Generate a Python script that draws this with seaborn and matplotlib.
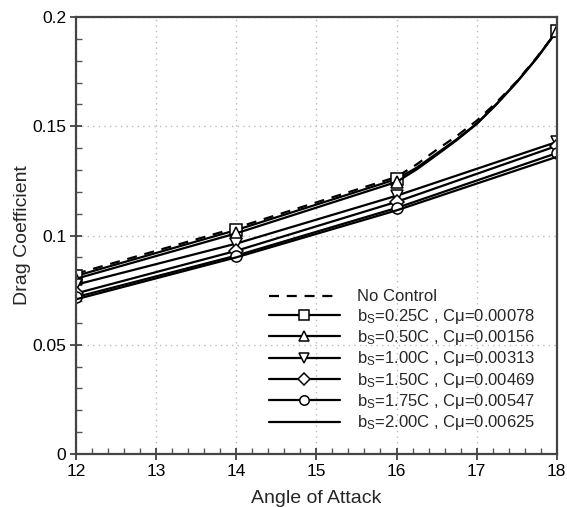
import numpy as np
import pandas as pd
import matplotlib
matplotlib.use("Agg")
import matplotlib.pyplot as plt
import seaborn as sns
from matplotlib.ticker import MultipleLocator, FixedLocator, FixedFormatter

# ---- data ----
x_fine = [12, 14, 16, 16.25, 16.5, 16.75, 17, 17.25, 17.5, 17.75, 18]
x_main = [12, 14, 16, 18]

no_control = [0.0825, 0.1035, 0.1268, 0.1325, 0.1392, 0.1455, 0.1525, 0.1610, 0.1705, 0.1815, 0.1935]
bs_025 = [0.0815, 0.1025, 0.1258, 0.1310, 0.1375, 0.1440, 0.1512, 0.1603, 0.1702, 0.1812, 0.1935]
bs_050 = [0.0802, 0.1010, 0.1245, 0.1302, 0.1368, 0.1436, 0.1510, 0.1601, 0.1701, 0.1811, 0.1935]
bs_100 = [0.0775, 0.0963, 0.1182, 0.1428]
bs_150 = [0.0735, 0.0930, 0.1154, 0.1410]
bs_175 = [0.0718, 0.0908, 0.1126, 0.1377]
bs_200 = [0.0708, 0.0900, 0.1115, 0.1360]

labels = [
    "No Control",
    r"b$_\mathregular{S}$=0.25C , Cμ=0.00078",
    r"b$_\mathregular{S}$=0.50C , Cμ=0.00156",
    r"b$_\mathregular{S}$=1.00C , Cμ=0.00313",
    r"b$_\mathregular{S}$=1.50C , Cμ=0.00469",
    r"b$_\mathregular{S}$=1.75C , Cμ=0.00547",
    r"b$_\mathregular{S}$=2.00C , Cμ=0.00625",
]
xticks = [12, 13, 14, 15, 16, 17, 18]
yticks = [0, 0.05, 0.1, 0.15, 0.2]
ytick_labels = ["0", "0.05", "0.1", "0.15", "0.2"]

sns.set_style("white")
plt.rcParams['font.family'] = ['Liberation Sans', 'DejaVu Sans']
plt.rcParams['mathtext.fontset'] = 'custom'
plt.rcParams['mathtext.rm'] = 'Liberation Sans'
plt.rcParams['mathtext.it'] = 'Liberation Sans'

fig = plt.figure(figsize=(5.67, 5.07), dpi=100)
ax = fig.add_axes([0.134, 0.1045, 0.848, 0.862])

series = [
    (x_fine, no_control, None, (0, (4.5, 3.5))),
    (x_fine, bs_025, 's', '-'),
    (x_fine, bs_050, '^', '-'),
    (x_main, bs_100, 'v', '-'),
    (x_main, bs_150, 'D', '-'),
    (x_main, bs_175, 'o', '-'),
    (x_main, bs_200, None, '-'),
]
msizes = {'s': 8, '^': 8, 'v': 8, 'D': 7, 'o': 8}

for (xs, ys, mk, ls), lab in zip(series, labels):
    df = pd.DataFrame({"x": xs, "y": ys})
    kw = {}
    if mk is not None:
        idx = [i for i, v in enumerate(xs) if v in x_main]
        kw = dict(marker=mk, markersize=msizes[mk], markerfacecolor='white',
                  markeredgecolor='black', markeredgewidth=1.1, markevery=idx)
    sns.lineplot(data=df, x="x", y="y", ax=ax, color='black', linewidth=1.6,
                 linestyle=ls, label=lab, sort=False, **kw)

ax.set_xlim(12, 18)
ax.set_ylim(0, 0.2)
ax.xaxis.set_major_locator(FixedLocator(xticks))
ax.yaxis.set_major_locator(FixedLocator(yticks))
ax.yaxis.set_major_formatter(FixedFormatter(ytick_labels))
ax.xaxis.set_minor_locator(MultipleLocator(0.2))
ax.yaxis.set_minor_locator(MultipleLocator(0.01))
ax.tick_params(axis='both', which='both', bottom=True, left=True, top=False, right=False)
ax.tick_params(axis='both', which='major', direction='inout', length=8, width=1.2,
               labelsize=12.5, colors='#333333', labelcolor='black', pad=3)
ax.tick_params(axis='both', which='minor', direction='in', length=4, width=1.0,
               colors='#555555')

ax.grid(True, which='major', color='#bbbbbb', linestyle=(0, (1, 3)), linewidth=1.0)
ax.set_axisbelow(True)
for sp in ax.spines.values():
    sp.set_color('#444444')
    sp.set_linewidth(1.6)

ax.set_xlabel("Angle of Attack", fontsize=14, labelpad=8)
ax.set_ylabel("Drag Coefficient", fontsize=14, labelpad=1)

leg = ax.legend(loc='lower right', bbox_to_anchor=(1.0, 0.0), frameon=False,
                fontsize=12, handlelength=4.3, handletextpad=1.0,
                labelspacing=0.14, borderaxespad=0.9, markerscale=0.85)

fig.savefig("out.png", dpi=100)
